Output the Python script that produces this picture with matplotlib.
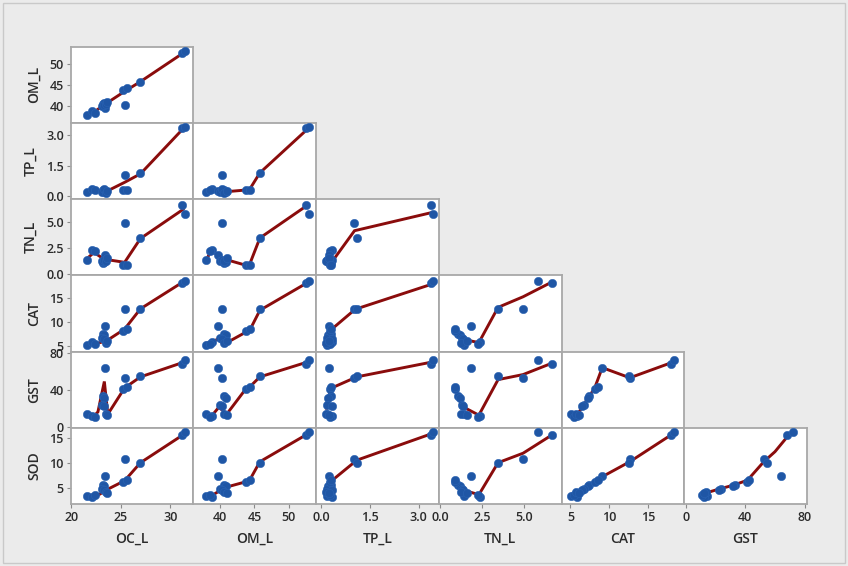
import matplotlib
matplotlib.use('Agg')
import matplotlib.pyplot as plt
from matplotlib.patches import Rectangle

plt.rcParams['font.family'] = ['Open Sans', 'DejaVu Sans']

variables = ['OC_L', 'OM_L', 'TP_L', 'TN_L', 'CAT', 'GST', 'SOD']

# samples (same order in every array)
OC_L = [21.6, 22.1, 22.4, 23.4, 23.2, 23.3, 23.1, 23.3, 23.5, 23.6, 25.4, 25.2, 25.6, 27.0, 31.2, 31.5]
OM_L = [38.0, 38.8, 38.5, 39.7, 40.5, 40.8, 40.0, 40.3, 40.6, 41.0, 40.3, 43.8, 44.3, 45.8, 52.5, 52.9]
TP_L = [0.18, 0.35, 0.28, 0.24, 0.30, 0.22, 0.20, 0.33, 0.15, 0.26, 1.02, 0.28, 0.32, 1.12, 3.38, 3.44]
TN_L = [1.4, 2.35, 2.25, 1.85, 1.05, 1.15, 1.3, 1.35, 1.25, 1.6, 4.95, 0.85, 0.9, 3.45, 6.7, 5.85]
CAT = [5.1, 5.8, 5.4, 9.1, 7.4, 7.2, 6.7, 6.5, 5.7, 6.1, 12.7, 8.1, 8.5, 12.6, 18.0, 18.4]
GST = [14.0, 12.0, 11.0, 64.0, 33.0, 31.5, 23.5, 22.0, 13.5, 12.5, 52.5, 41.0, 42.5, 54.5, 68.0, 72.0]
SOD = [3.4, 3.2, 3.6, 7.4, 5.7, 5.4, 4.9, 4.6, 4.3, 4.0, 10.9, 6.3, 6.7, 10.1, 15.6, 16.2]

# lowess smoother vertices, (x, y)
fit_oc_om = [(21.6, 38.0), (22.4, 38.8), (23.3, 40.3), (25.4, 43.5), (27.0, 45.8), (31.5, 52.8)]
fit_oc_tp = [(21.6, 0.22), (23.6, 0.24), (25.4, 0.68), (27.0, 1.1), (31.4, 3.38)]
fit_oc_tn = [(21.7, 1.6), (22.3, 2.1), (23.1, 1.6), (23.7, 1.4), (25.4, 1.15), (27.0, 3.45), (31.3, 6.25)]
fit_oc_cat = [(21.6, 5.2), (22.4, 5.4), (23.6, 6.1), (25.4, 8.5), (27.0, 12.7), (31.4, 18.4)]
fit_oc_gst = [(21.6, 14), (22.3, 11.5), (22.7, 16), (23.35, 49), (23.7, 13.5), (25.4, 42), (27.0, 54), (31.4, 70)]
fit_oc_sod = [(21.6, 3.2), (22.4, 3.2), (23.6, 4.7), (25.4, 6.5), (27.0, 10.1), (31.4, 15.8)]
fit_om_tp = [(38.0, 0.2), (38.7, 0.3), (41.0, 0.22), (43.8, 0.3), (44.3, 0.33), (45.8, 1.15), (52.7, 3.3)]
fit_om_tn = [(38.0, 1.4), (38.7, 2.3), (39.8, 1.75), (40.7, 1.45), (43.8, 0.86), (44.3, 0.95), (45.8, 3.5), (52.6, 6.6)]
fit_om_cat = [(38.0, 5.6), (38.8, 5.8), (39.9, 6.6), (41.0, 5.7), (43.8, 7.9), (44.3, 8.2), (45.8, 12.4), (52.7, 18.1)]
fit_om_gst = [(38.0, 12), (38.8, 12), (39.8, 21), (41.0, 14), (43.8, 41.5), (44.3, 43), (45.8, 54), (52.7, 70)]
fit_om_sod = [(38.0, 3.1), (38.9, 3.6), (40.6, 5.1), (43.8, 6.3), (44.3, 6.6), (45.8, 10.3), (52.7, 15.8)]
fit_tp_tn = [(0.27, 1.05), (0.36, 1.3), (1.03, 4.2), (3.4, 5.95)]
fit_tp_cat = [(0.1, 5.3), (0.3, 8.3), (1.05, 12.6), (3.4, 17.8)]
fit_tp_gst = [(0.17, 20), (0.2, 30), (0.33, 42), (1.1, 54), (3.4, 70)]
fit_tp_sod = [(0.12, 4.2), (0.35, 6.6), (1.1, 10.6), (3.4, 15.9)]
fit_tn_cat = [(0.85, 8.3), (1.3, 6.4), (2.3, 5.7), (3.45, 13.0), (4.95, 15.2), (6.7, 18.3)]
fit_tn_gst = [(0.85, 42), (1.3, 22), (2.3, 12.5), (3.45, 51), (4.95, 56.5), (6.7, 69)]
fit_tn_sod = [(0.85, 6.3), (1.3, 4.7), (2.3, 3.7), (3.45, 10.1), (4.95, 12.0), (6.7, 15.7)]
fit_cat_gst = [(5.1, 13), (5.7, 11), (6.6, 22), (7.3, 31.5), (8.1, 41.5), (9.1, 64), (12.65, 53), (18.2, 70)]
fit_cat_sod = [(5.1, 3.6), (7.3, 5.6), (9.1, 7.3), (12.65, 10.3), (18.2, 15.9)]
fit_gst_sod = [(11, 3.5), (13, 4.0), (22, 4.8), (32, 5.6), (41.5, 6.6), (52.5, 10.3), (60, 12.3), (70, 15.9)]

tick_vals = {
    'OC_L': [20, 25, 30], 'OM_L': [40, 45, 50], 'TP_L': [0, 1.5, 3.0],
    'TN_L': [0, 2.5, 5.0], 'CAT': [5, 10, 15], 'GST': [0, 40, 80], 'SOD': [5, 10, 15],
}
tick_txt = {
    'OC_L': ['20', '25', '30'], 'OM_L': ['40', '45', '50'], 'TP_L': ['0.0', '1.5', '3.0'],
    'TN_L': ['0.0', '2.5', '5.0'], 'CAT': ['5', '10', '15'], 'GST': ['0', '40', '80'],
    'SOD': ['5', '10', '15'],
}
lims = {
    'OC_L': (19.95, 32.35), 'OM_L': (36.1, 54.0), 'TP_L': (-0.15, 3.62),
    'TN_L': (-0.1, 7.25), 'CAT': (3.85, 19.65), 'GST': (-1.1, 81.5), 'SOD': (1.86, 17.1),
}

values = dict(zip(variables, [OC_L, OM_L, TP_L, TN_L, CAT, GST, SOD]))
fits = {
    ('OC_L', 'OM_L'): fit_oc_om, ('OC_L', 'TP_L'): fit_oc_tp, ('OC_L', 'TN_L'): fit_oc_tn,
    ('OC_L', 'CAT'): fit_oc_cat, ('OC_L', 'GST'): fit_oc_gst, ('OC_L', 'SOD'): fit_oc_sod,
    ('OM_L', 'TP_L'): fit_om_tp, ('OM_L', 'TN_L'): fit_om_tn, ('OM_L', 'CAT'): fit_om_cat,
    ('OM_L', 'GST'): fit_om_gst, ('OM_L', 'SOD'): fit_om_sod,
    ('TP_L', 'TN_L'): fit_tp_tn, ('TP_L', 'CAT'): fit_tp_cat, ('TP_L', 'GST'): fit_tp_gst,
    ('TP_L', 'SOD'): fit_tp_sod,
    ('TN_L', 'CAT'): fit_tn_cat, ('TN_L', 'GST'): fit_tn_gst, ('TN_L', 'SOD'): fit_tn_sod,
    ('CAT', 'GST'): fit_cat_gst, ('CAT', 'SOD'): fit_cat_sod,
    ('GST', 'SOD'): fit_gst_sod,
}

W, H = 848, 566
fig = plt.figure(figsize=(W / 100, H / 100), dpi=100, facecolor='#ebebeb')
fig.patches.append(Rectangle((3 / W, 3 / H), (W - 6) / W, (H - 6) / H, transform=fig.transFigure,
                             fill=False, edgecolor='#c9c9c9', linewidth=1.0))

left, top = 70.7 / W, (H - 46.7) / H
pw, ph = 122.7 / W, 76.2 / H
n = len(variables)
txt_color = '#2b2b2b'

for i in range(1, n):
    yv = variables[i]
    for j in range(i):
        xv = variables[j]
        ax = fig.add_axes([left + j * pw, top - i * ph, pw, ph])
        ax.set_facecolor('white')
        fx = [p[0] for p in fits[(xv, yv)]]
        fy = [p[1] for p in fits[(xv, yv)]]
        ax.plot(fx, fy, color='#8a0c0c', lw=2.1, solid_joinstyle='miter', zorder=2)
        ax.scatter(values[xv], values[yv], s=36, color='#1f56a5', edgecolors='#2a63b3',
                   linewidths=0.4, zorder=3)
        ax.set_xlim(lims[xv])
        ax.set_ylim(lims[yv])
        for s in ax.spines.values():
            s.set_color('#a8a8a8')
            s.set_linewidth(1.3)
        ax.tick_params(length=3, width=0.8, color='#8a8a8a', labelsize=9, labelcolor=txt_color, pad=2)
        if j == 0:
            ax.set_yticks(tick_vals[yv])
            ax.set_yticklabels(tick_txt[yv], fontweight='semibold')
            ax.set_ylabel(yv, fontsize=10, fontweight='semibold', color=txt_color, labelpad=6)
        else:
            ax.set_yticks([])
        if i == n - 1:
            ax.set_xticks(tick_vals[xv])
            ax.set_xticklabels(tick_txt[xv], fontweight='semibold')
            ax.set_xlabel(xv, fontsize=10, fontweight='semibold', color=txt_color, labelpad=6)
        else:
            ax.set_xticks([])

fig.savefig('out.png', dpi=100, facecolor=fig.get_facecolor())
